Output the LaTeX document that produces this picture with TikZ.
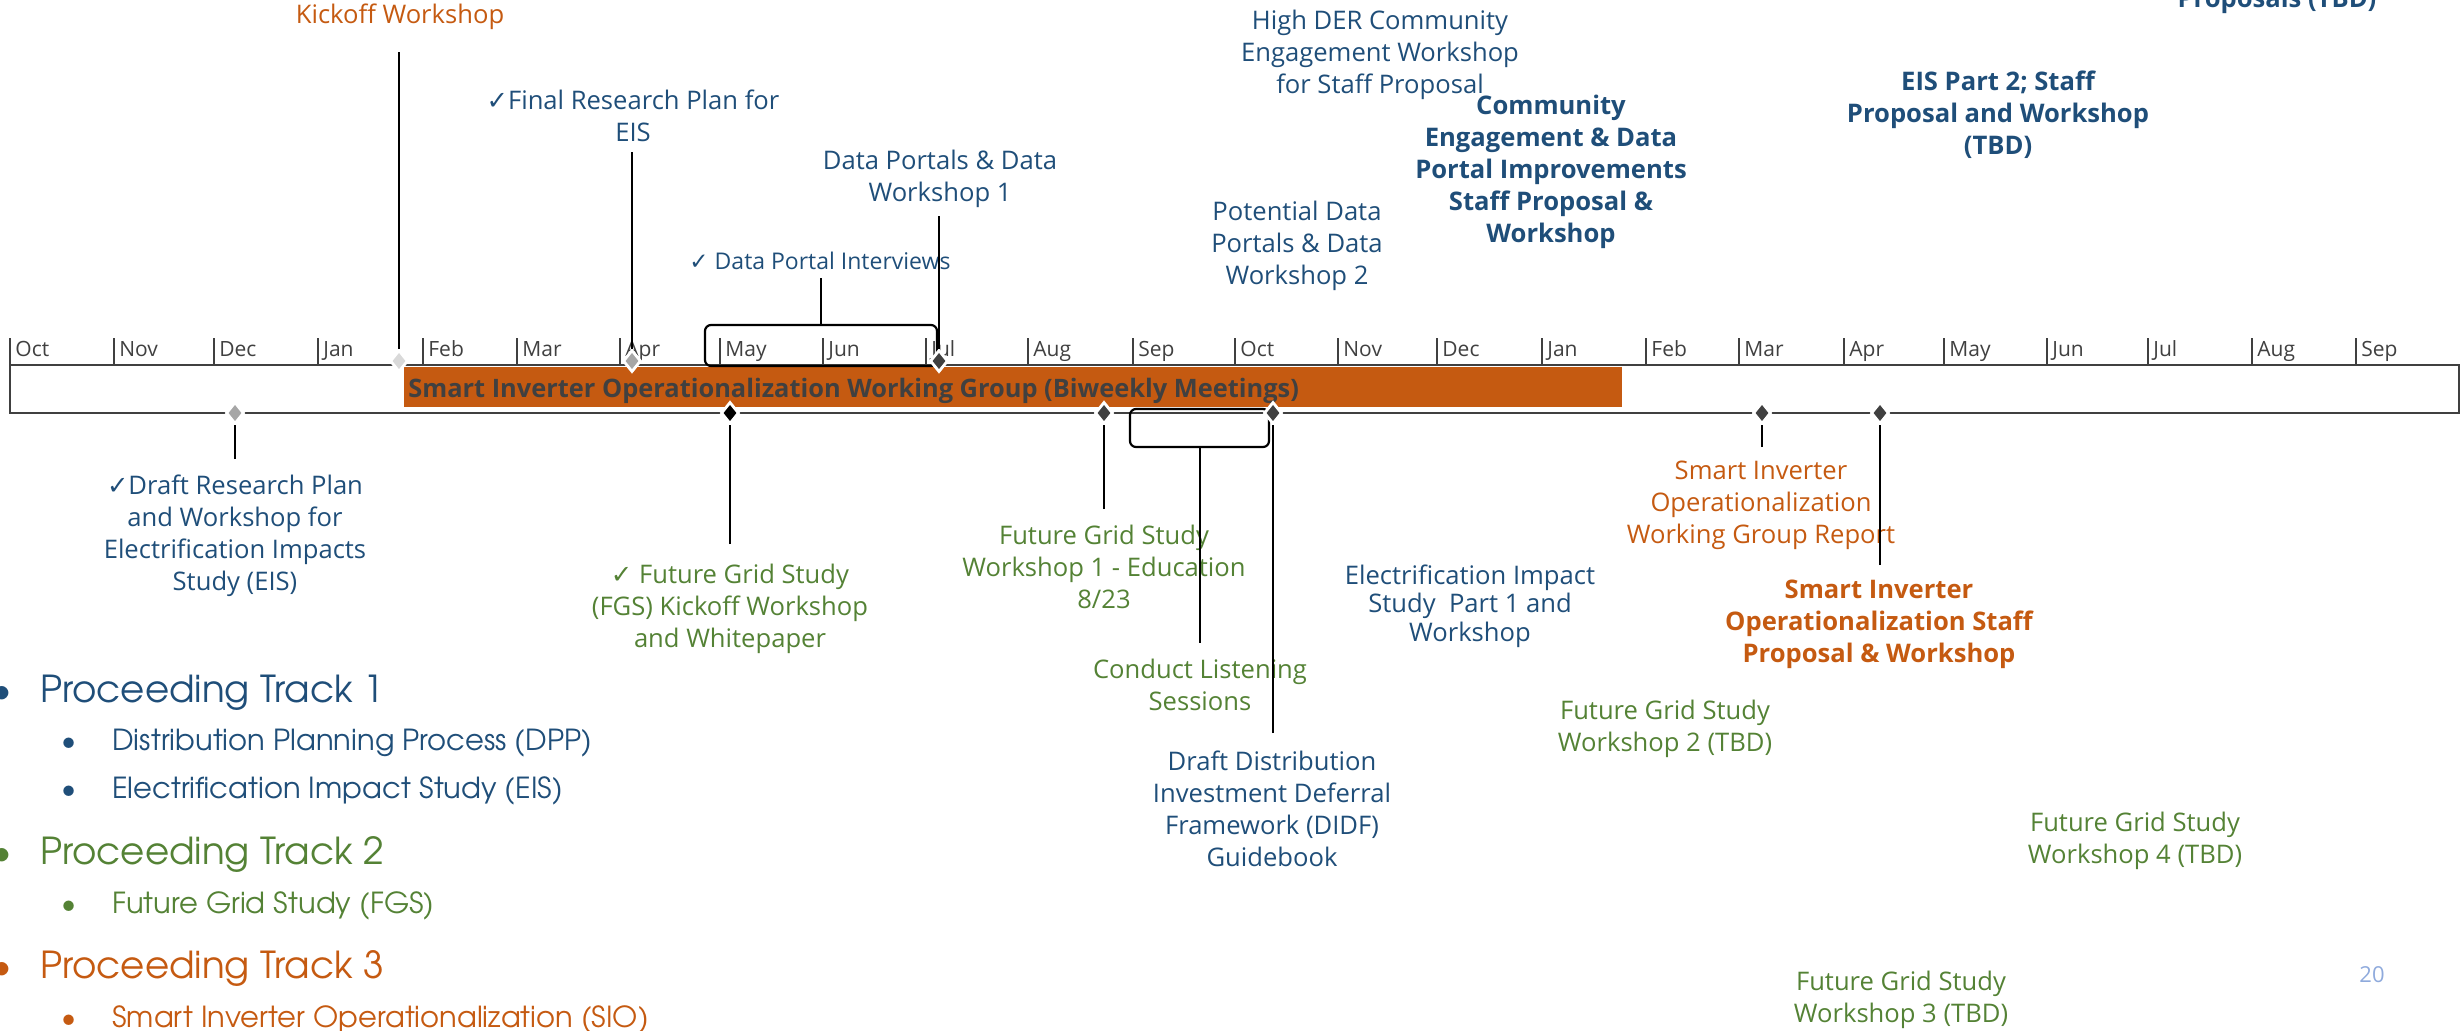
\documentclass[tikz,border=0pt]{standalone}
\usepackage{fontspec}
\setmainfont{Open Sans}
\newfontfamily\gothic{TeX Gyre Adventor}
\newfontfamily\dejavu{DejaVu Sans}
\usetikzlibrary{shapes.geometric}

\definecolor{navy}{HTML}{1F4E79}
\definecolor{leaf}{HTML}{548235}
\definecolor{rust}{HTML}{C55A11}
\definecolor{slate}{HTML}{404040}
\definecolor{mist}{HTML}{D9D9D9}
\definecolor{ash}{HTML}{A6A6A6}
\definecolor{sky}{HTML}{8FAADC}

\newcommand{\chk}{{\dejavu ✓}}

\tikzset{
	lbl/.style={align=center, inner sep=0pt, font=\fontsize{12.8}{16}\selectfont},
	lblb/.style={lbl, font=\fontsize{12.8}{16}\selectfont\bfseries},
	mon/.style={anchor=base west, inner sep=0pt, text=slate, font=\fontsize{10.5}{12}\selectfont},
	mtick/.style={draw=slate, line width=0.8pt},
	ms/.style={diamond, draw=white, line width=1.4pt, inner sep=0pt, minimum width=9pt, minimum height=11pt},
	stem/.style={draw=black, line width=1pt},
	brk/.style={draw=black, line width=1.1pt, rounded corners=3pt, inner sep=0pt},
	trk/.style={anchor=base west, inner sep=0pt, font=\gothic\fontsize{18.6}{20}\selectfont},
	sub/.style={anchor=base west, inner sep=0pt, font=\gothic\fontsize{14.5}{17}\selectfont},
	bul1/.style={anchor=base, inner sep=0pt, font=\gothic\fontsize{18.6}{20}\selectfont},
	bul2/.style={anchor=base, inner sep=0pt, font=\gothic\fontsize{14.5}{17}\selectfont},
}

\begin{document}
\begin{tikzpicture}[x=0.5pt, y=-0.5pt]
	% Frame:
	\useasboundingbox (0,0) rectangle (2464,1030);
	\clip (0,0) rectangle (2464,1030);
	% Timeline bar:
	\draw[slate, line width=0.6pt] (10,365) rectangle (2459,413);
	\draw[slate, line width=1.3pt] (10,365) -- (2459,365);
	\draw[slate, line width=1.3pt] (10,413) -- (2459,413);
	\fill[rust] (404,367) rectangle (1622,407);
	\node[anchor=base west, inner sep=0pt, text=slate, font=\fontsize{12.7}{14}\selectfont\bfseries] (wg) at (408,397) {Smart Inverter Operationalization Working Group (Biweekly Meetings)};
	% Months:
	\draw[mtick] (10,338) -- (10,365); \node[mon] (m1) at (15,356) {Oct};
	\draw[mtick] (114,338) -- (114,365); \node[mon] (m2) at (119,356) {Nov};
	\draw[mtick] (214,338) -- (214,365); \node[mon] (m3) at (219,356) {Dec};
	\draw[mtick] (318,338) -- (318,365); \node[mon] (m4) at (323,356) {Jan};
	\draw[mtick] (423,338) -- (423,365); \node[mon] (m5) at (428,356) {Feb};
	\draw[mtick] (517,338) -- (517,365); \node[mon] (m6) at (522,356) {Mar};
	\draw[mtick] (620,338) -- (620,365); \node[mon] (m7) at (625,356) {Apr};
	\draw[mtick] (720,338) -- (720,365); \node[mon] (m8) at (725,356) {May};
	\draw[mtick] (823,338) -- (823,365); \node[mon] (m9) at (828,356) {Jun};
	\draw[mtick] (926,338) -- (926,365); \node[mon] (m10) at (931,356) {Jul};
	\draw[mtick] (1028,338) -- (1028,365); \node[mon] (m11) at (1033,356) {Aug};
	\draw[mtick] (1133,338) -- (1133,365); \node[mon] (m12) at (1138,356) {Sep};
	\draw[mtick] (1235,338) -- (1235,365); \node[mon] (m13) at (1240,356) {Oct};
	\draw[mtick] (1338,338) -- (1338,365); \node[mon] (m14) at (1343,356) {Nov};
	\draw[mtick] (1437,338) -- (1437,365); \node[mon] (m15) at (1442,356) {Dec};
	\draw[mtick] (1542,338) -- (1542,365); \node[mon] (m16) at (1547,356) {Jan};
	\draw[mtick] (1646,338) -- (1646,365); \node[mon] (m17) at (1651,356) {Feb};
	\draw[mtick] (1739,338) -- (1739,365); \node[mon] (m18) at (1744,356) {Mar};
	\draw[mtick] (1844,338) -- (1844,365); \node[mon] (m19) at (1849,356) {Apr};
	\draw[mtick] (1944,338) -- (1944,365); \node[mon] (m20) at (1949,356) {May};
	\draw[mtick] (2047,338) -- (2047,365); \node[mon] (m21) at (2052,356) {Jun};
	\draw[mtick] (2148,338) -- (2148,365); \node[mon] (m22) at (2153,356) {Jul};
	\draw[mtick] (2252,338) -- (2252,365); \node[mon] (m23) at (2257,356) {Aug};
	\draw[mtick] (2356,338) -- (2356,365); \node[mon] (m24) at (2361,356) {Sep};
	% Labels above:
	\node[lbl, text=rust] (kick) at (400,17) {Kickoff Workshop};
	\node[lbl, text=navy] (final) at (633,116) {\chk Final Research Plan for\\EIS};
	\node[lbl, text=navy] (portal) at (940,179) {Data Portals \& Data\\Workshop 1};
	\node[lbl, text=navy, font=\fontsize{11.5}{14}\selectfont] (interv) at (820,261) {\chk\ Data Portal Interviews};
	\node[lbl, text=navy] (highder) at (1380,55) {High DER Community\\Engagement Workshop\\for Staff Proposal};
	\node[lblb, text=navy] (commu) at (1551,172) {Community\\Engagement \& Data\\Portal Improvements\\Staff Proposal \&\\Workshop};
	\node[lbl, text=navy] (potent) at (1297,246) {Potential Data\\Portals \& Data\\Workshop 2};
	\node[lblb, text=navy] (eis2) at (1998,115) {EIS Part 2; Staff\\Proposal and Workshop\\(TBD)};
	\node[lblb, text=navy, anchor=base] (props) at (2277,7) {Proposals (TBD)};
	% Labels below:
	\node[lbl, text=navy] (draft) at (235,536) {\chk Draft Research Plan\\and Workshop for\\Electrification Impacts\\Study (EIS)};
	\node[lbl, text=leaf] (fgs) at (730,609) {\chk\ Future Grid Study\\(FGS) Kickoff Workshop\\and Whitepaper};
	\node[lbl, text=leaf] (fgs1) at (1104,567) {Future Grid Study\\Workshop 1 - Education\\8/23};
	\node[lbl, text=leaf] (listen) at (1200,685) {Conduct Listening\\Sessions};
	\node[lbl, text=navy] (didf) at (1272,809) {Draft Distribution\\Investment Deferral\\Framework (DIDF)\\Guidebook};
	\node[lbl, text=navy, font=\fontsize{12.8}{14.25}\selectfont] (eis1) at (1470,606) {Electrification Impact\\Study\ \ Part 1 and\\Workshop};
	\node[lbl, text=rust] (wgrep) at (1761,505) {Smart Inverter\\Operationalization\\Working Group Report};
	\node[lblb, text=rust] (siosp) at (1879,624) {Smart Inverter\\Operationalization Staff\\Proposal \& Workshop};
	\node[lbl, text=leaf] (fgs2) at (1665,729) {Future Grid Study\\Workshop 2 (TBD)};
	\node[lbl, text=leaf] (fgs4) at (2135,841) {Future Grid Study\\Workshop 4 (TBD)};
	\node[lbl, text=leaf] (fgs3) at (1901,1000) {Future Grid Study\\Workshop 3 (TBD)};
	\node[lbl, text=sky, font=\fontsize{11}{13}\selectfont] (pg) at (2372,975) {20};
	% Tracks:
	\node[bul1, text=navy] (b1) at (2,702) {\textbullet};
	\node[trk, text=navy] (tr1) at (40,702) {Proceeding Track 1};
	\node[bul2, text=navy] (b11) at (69,750) {\textbullet};
	\node[sub, text=navy] (dpp) at (112,750) {Distribution Planning Process (DPP)};
	\node[bul2, text=navy] (b12) at (69,798) {\textbullet};
	\node[sub, text=navy] (eis) at (112,798) {Electrification Impact Study (EIS)};
	\node[bul1, text=leaf] (b2) at (2,864) {\textbullet};
	\node[trk, text=leaf] (tr2) at (40,864) {Proceeding Track 2};
	\node[bul2, text=leaf] (b21) at (69,913) {\textbullet};
	\node[sub, text=leaf] (fgsi) at (112,913) {Future Grid Study (FGS)};
	\node[bul1, text=rust] (b3) at (2,978) {\textbullet};
	\node[trk, text=rust] (tr3) at (40,978) {Proceeding Track 3};
	\node[bul2, text=rust] (b31) at (69,1027) {\textbullet};
	\node[sub, text=rust] (sioi) at (112,1027) {Smart Inverter Operationalization (SIO)};
	% Stem ends:
	\coordinate (kickEnd) at (399,52);
	\coordinate (finalEnd) at (632,152);
	\coordinate (portalEnd) at (939,216);
	\coordinate (intEnd) at (821,278);
	\coordinate (draftEnd) at (235,459);
	\coordinate (fgsEnd) at (730,544);
	\coordinate (w1End) at (1104,509);
	\coordinate (lsEnd) at (1199.5,643);
	\coordinate (didfEnd) at (1273,733);
	\coordinate (repEnd) at (1762,447);
	\coordinate (sioEnd) at (1880,565);
	% Brackets:
	\node[brk, minimum width=116pt, minimum height=20.5pt] (brA) at (821,345.5) {};
	\node[brk, minimum width=69.5pt, minimum height=19pt] (brB) at (1199.5,428) {};
	\draw[stem] (brA.north) -- (intEnd);
	\draw[stem] (brB.south) -- (lsEnd);
	% Milestones:
	\node[ms, fill=mist] (dKick) at (399,361) {};
	\node[ms, fill=ash] (dFinal) at (632,361) {};
	\node[ms, fill=slate] (dPortal) at (939,361) {};
	\node[ms, fill=ash] (dDraft) at (235,413) {};
	\node[ms, fill=black] (dFgs) at (730,413) {};
	\node[ms, fill=slate] (dW1) at (1104,413) {};
	\node[ms, fill=slate] (dDidf) at (1273,413) {};
	\node[ms, fill=slate] (dRep) at (1762,413) {};
	\node[ms, fill=slate] (dSio) at (1880,413) {};
	\draw[stem] (kickEnd) -- (dKick);
	\draw[stem] (finalEnd) -- (dFinal);
	\draw[stem] (portalEnd) -- (dPortal);
	\draw[stem] (draftEnd) -- (dDraft);
	\draw[stem] (fgsEnd) -- (dFgs);
	\draw[stem] (w1End) -- (dW1);
	\draw[stem] (didfEnd) -- (dDidf);
	\draw[stem] (repEnd) -- (dRep);
	\draw[stem] (sioEnd) -- (dSio);
\end{tikzpicture}
\end{document}
